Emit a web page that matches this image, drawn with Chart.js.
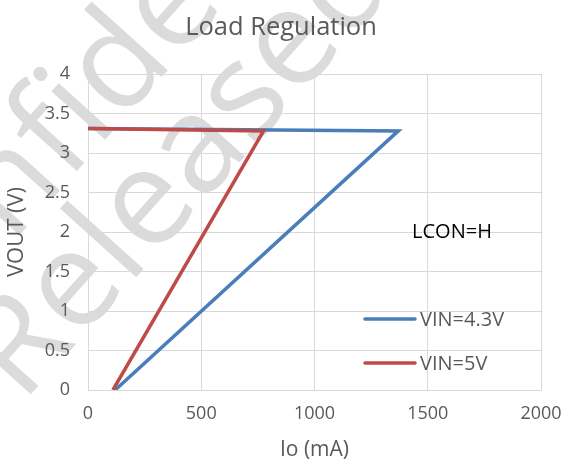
<!DOCTYPE html>
<html>
<head>
<meta charset="utf-8">
<script src="https://cdn.jsdelivr.net/npm/chart.js@4/dist/chart.umd.min.js"></script>
<style>
  html, body { margin: 0; padding: 0; background: #fff; }
  #wrap { width: 562px; height: 466px; }
</style>
</head>
<body>
<div id="wrap"><canvas id="myChart" width="562" height="466"></canvas></div>
<script>
// data (Io in mA, VOUT in V)
var seriesNames = ["VIN=4.3V", "VIN=5V"];
var ioVin43 = [0, 1370, 120];
var voutVin43 = [3.31, 3.28, 0];
var ioVin5 = [0, 775, 110];
var voutVin5 = [3.31, 3.28, 0];
var xTicks = [0, 500, 1000, 1500, 2000];
var yTicks = [0, 0.5, 1, 1.5, 2, 2.5, 3, 3.5, 4];
var noteText = "LCON=H";
var notePos = [1607, 2.0];

var gray = "#595959";
var font = "'Open Sans', 'Liberation Sans', sans-serif";

function toPoints(xs, ys) {
  var pts = [];
  for (var i = 0; i < xs.length; i++) pts.push({ x: xs[i], y: ys[i] });
  return pts;
}

// faint watermark behind everything
var watermark = {
  id: "watermark",
  beforeDraw: function (chart) {
    var ctx = chart.ctx;
    ctx.save();
    ctx.fillStyle = "rgba(190,190,190,0.55)";
    ctx.font = "135px " + font;
    ctx.textBaseline = "alphabetic";
    ctx.translate(22, 404);
    ctx.rotate(-48 * Math.PI / 180);
    ctx.fillText("Released", 0, 0);
    ctx.fillText("Confidential", -54, -115);
    ctx.restore();
  }
};

// legend inside the plot + the LCON note
var extras = {
  id: "extras",
  afterDatasetsDraw: function (chart) {
    var ctx = chart.ctx;
    var xs = chart.scales.x, ys = chart.scales.y;
    ctx.save();
    ctx.font = "20px " + font;
    ctx.textBaseline = "middle";
    var legendY = [319, 363];
    chart.data.datasets.forEach(function (ds, i) {
      ctx.strokeStyle = ds.borderColor;
      ctx.lineWidth = 3.5;
      ctx.lineCap = "round";
      ctx.beginPath();
      ctx.moveTo(365, legendY[i]);
      ctx.lineTo(415, legendY[i]);
      ctx.stroke();
      ctx.fillStyle = gray;
      ctx.textAlign = "left";
      ctx.fillText(ds.label, 420, legendY[i] + 1);
    });
    ctx.fillStyle = "#000";
    ctx.textAlign = "center";
    ctx.fillText(noteText, xs.getPixelForValue(notePos[0]), ys.getPixelForValue(notePos[1]));
    ctx.restore();
  }
};

function plainTick(v) { return String(v); }

new Chart(document.getElementById("myChart"), {
  type: "scatter",
  data: {
    datasets: [
      {
        label: seriesNames[0],
        data: toPoints(ioVin43, voutVin43),
        showLine: true,
        borderColor: "#4a7ebb",
        borderWidth: 3.5,
        pointRadius: 0,
        tension: 0,
        order: 2
      },
      {
        label: seriesNames[1],
        data: toPoints(ioVin5, voutVin5),
        showLine: true,
        borderColor: "#be4b48",
        borderWidth: 3.5,
        pointRadius: 0,
        tension: 0,
        order: 1
      }
    ]
  },
  options: {
    responsive: false,
    animation: false,
    layout: { padding: 0 },
    plugins: {
      legend: { display: false },
      tooltip: { enabled: false },
      title: {
        display: true,
        text: "Load Regulation",
        color: gray,
        font: { family: font, size: 25.5, weight: "normal" },
        padding: { top: 12, bottom: 31.4 }
      }
    },
    scales: {
      x: {
        type: "linear",
        min: 0,
        max: 2000,
        afterBuildTicks: function (s) { s.ticks = xTicks.map(function (v) { return { value: v }; }); },
        afterFit: function (s) { s.height = 76; s.paddingLeft = 0; s.paddingRight = 21; },
        grid: { color: "#d9d9d9", drawTicks: false },
        border: { color: "#d9d9d9" },
        ticks: { color: gray, font: { family: font, size: 18 }, padding: 13, maxRotation: 0, callback: plainTick },
        title: {
          display: true,
          text: "Io (mA)",
          color: gray,
          font: { family: font, size: 21 },
          padding: { top: 3, bottom: 3 }
        }
      },
      y: {
        type: "linear",
        min: 0,
        max: 4,
        afterBuildTicks: function (s) { s.ticks = yTicks.map(function (v) { return { value: v }; }); },
        afterFit: function (s) { s.width = 88; },
        grid: { color: "#d9d9d9", drawTicks: false },
        border: { color: "#d9d9d9" },
        ticks: { color: gray, font: { family: font, size: 18 }, padding: 18, callback: plainTick },
        title: {
          display: true,
          text: "VOUT (V)",
          color: gray,
          font: { family: font, size: 22 },
          padding: { top: 4, bottom: 4 }
        }
      }
    }
  },
  plugins: [watermark, extras]
});
</script>
</body>
</html>
